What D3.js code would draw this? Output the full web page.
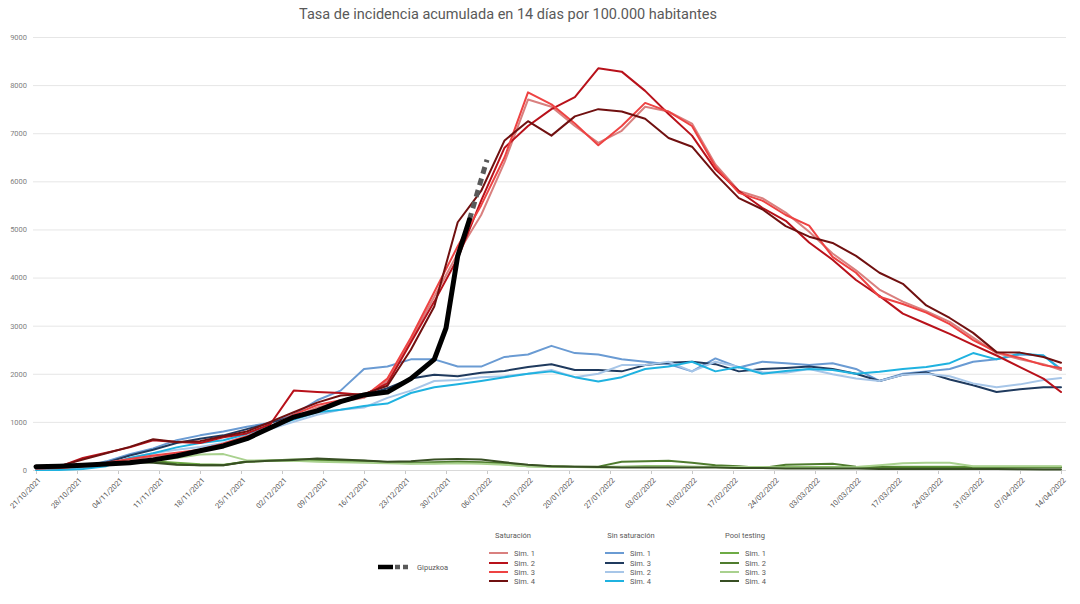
<!DOCTYPE html>
<html><head><meta charset="utf-8">
<script src="https://cdn.jsdelivr.net/npm/d3@7"></script>
<style>
body{margin:0;background:#fff}
svg{display:block}
text{font-family:Roboto,"Liberation Sans",sans-serif}
</style>
</head><body>
<svg id="c" width="1080" height="604"></svg>
<script>
// ---------- DATA ----------
const dates = ["2021-10-21","2021-10-25","2021-10-29","2021-11-02","2021-11-06","2021-11-10","2021-11-14","2021-11-18","2021-11-22","2021-11-26","2021-11-30","2021-12-04","2021-12-08","2021-12-12","2021-12-16","2021-12-20","2021-12-24","2021-12-28","2022-01-01","2022-01-05","2022-01-09","2022-01-13","2022-01-17","2022-01-21","2022-01-25","2022-01-29","2022-02-02","2022-02-06","2022-02-10","2022-02-14","2022-02-18","2022-02-22","2022-02-26","2022-03-02","2022-03-06","2022-03-10","2022-03-14","2022-03-18","2022-03-22","2022-03-26","2022-03-30","2022-04-03","2022-04-07","2022-04-11","2022-04-14"];

// Saturación
const satSim1 = [30,40,80,140,210,280,340,400,520,680,880,1100,1300,1420,1500,1850,2700,3600,4500,5300,6400,7700,7550,7150,6800,7050,7550,7450,7200,6350,5800,5650,5350,4950,4500,4150,3750,3500,3300,3080,2750,2430,2300,2200,2080];
const satSim2 = [50,70,250,360,470,620,580,560,680,760,950,1650,1620,1600,1560,1800,2650,3500,4400,5600,6700,7150,7500,7750,8350,8280,7880,7400,6950,6250,5800,5450,5180,4730,4370,3950,3620,3250,3040,2830,2600,2380,2140,1900,1620];
const satSim3 = [30,40,90,150,230,300,360,420,550,700,900,1150,1350,1450,1520,1900,2750,3700,4650,5500,6500,7850,7600,7200,6750,7150,7630,7450,7150,6300,5760,5600,5300,5080,4430,4100,3600,3450,3270,3030,2700,2450,2330,2180,2120];
const satSim4 = [50,80,220,350,480,640,580,600,700,800,1000,1200,1400,1550,1580,1750,2500,3400,5150,5800,6850,7250,6950,7350,7500,7450,7300,6900,6720,6150,5650,5420,5070,4850,4720,4450,4100,3870,3420,3160,2850,2450,2440,2350,2230];

// Sin saturación
const sinSim1 = [20,30,60,180,330,450,620,720,800,900,980,1150,1450,1650,2100,2150,2300,2300,2150,2150,2350,2400,2580,2430,2400,2300,2250,2200,2050,2320,2130,2250,2220,2180,2220,2100,1850,2000,2050,2100,2250,2300,2400,2380,2100];
const sinSim3 = [20,30,50,150,300,420,560,650,720,850,980,1120,1250,1400,1550,1700,1900,1980,1950,2020,2060,2140,2200,2080,2080,2050,2180,2230,2250,2200,2050,2100,2120,2150,2100,2000,1850,1980,2030,1880,1760,1620,1680,1720,1720];
const sinSim2 = [10,20,40,120,250,350,420,480,560,700,850,1000,1150,1250,1300,1500,1650,1850,1870,1930,1950,2000,2080,1930,2000,2180,2180,2250,2050,2250,2140,2030,2020,2100,1990,1900,1850,1980,2000,1950,1800,1720,1780,1870,1910];
const sinSim4 = [0,0,20,80,250,350,470,560,620,750,900,1050,1200,1250,1330,1380,1600,1720,1780,1850,1930,2000,2050,1930,1840,1930,2100,2150,2250,2050,2140,2000,2060,2100,2080,2000,2040,2100,2140,2220,2430,2300,2420,2380,2080];

// Pool testing
const poolSim1 = [60,70,90,130,160,180,150,120,110,170,190,200,200,180,170,150,140,150,160,150,120,80,70,60,60,70,80,80,70,60,50,60,60,60,60,60,70,70,70,70,70,70,70,70,70];
const poolSim2 = [60,70,100,140,170,180,120,100,100,180,200,220,220,200,190,160,150,160,170,160,140,100,80,70,70,170,180,190,150,100,80,40,110,120,130,70,60,50,50,50,50,50,50,50,50];
const poolSim3 = [50,60,80,120,150,180,250,320,330,200,200,190,170,160,150,140,130,130,140,130,110,80,70,60,50,60,60,60,60,60,60,60,50,50,50,60,100,140,150,150,80,80,80,80,80];
const poolSim4 = [60,70,100,130,160,150,110,100,100,170,190,210,240,220,200,170,180,220,230,220,160,110,80,70,60,50,50,50,50,50,40,40,30,30,30,30,20,20,20,20,20,20,15,10,10];

// Gipuzkoa (observed) and projection
const gipDates = ["2021-10-21","2021-10-25","2021-10-29","2021-11-02","2021-11-06","2021-11-10","2021-11-14","2021-11-18","2021-11-22","2021-11-26","2021-11-30","2021-12-04","2021-12-08","2021-12-12","2021-12-16","2021-12-20","2021-12-24","2021-12-28","2021-12-30","2022-01-01","2022-01-03"];
const gipValues = [70,80,100,125,150,210,290,400,500,650,880,1100,1230,1420,1560,1620,1900,2300,2950,4450,5200];
const gipProjDates = ["2022-01-03","2022-01-06"];
const gipProjValues = [5200,6450];

const yTicks = [0,1000,2000,3000,4000,5000,6000,7000,8000,9000];
const xTickLabels = ["21/10/2021","28/10/2021","04/11/2021","11/11/2021","18/11/2021","25/11/2021","02/12/2021","09/12/2021","16/12/2021","23/12/2021","30/12/2021","06/01/2022","13/01/2022","20/01/2022","27/01/2022","03/02/2022","10/02/2022","17/02/2022","24/02/2022","03/03/2022","10/03/2022","17/03/2022","24/03/2022","31/03/2022","07/04/2022","14/04/2022"];

const title = "Tasa de incidencia acumulada en 14 días por 100.000 habitantes";
const groupTitles = ["Saturación","Sin saturación","Pool testing"];
const groupLabels = [["Sim. 1","Sim. 2","Sim. 3","Sim. 4"],["Sim. 1","Sim. 3","Sim. 2","Sim. 4"],["Sim. 1","Sim. 2","Sim. 3","Sim. 4"]];
const groupValues = [[satSim1,satSim2,satSim3,satSim4],[sinSim1,sinSim3,sinSim2,sinSim4],[poolSim1,poolSim2,poolSim3,poolSim4]];

// ---------- STYLES ----------
const groupColors = [
  ["#d9807f","#b8111a","#ee4343","#701010"],
  ["#6a9bd3","#1f3a5e","#a7c6e8","#1fb2e0"],
  ["#6eab45","#4f7c2e","#a9d18e","#384f24"]
];

// ---------- CHART ----------
const parse = d3.timeParse("%Y-%m-%d");
const fmtIn = d3.timeParse("%d/%m/%Y");
const svg = d3.select("#c");
const x = d3.scaleTime().domain([parse("2021-10-21"), parse("2022-04-14")]).range([36, 1061]);
const y = d3.scaleLinear().domain([0, 9000]).range([470, 37]);
const gridL = 33, gridR = 1066;

// title
svg.append("text").attr("x", 508).attr("y", 19).attr("text-anchor","middle")
  .attr("font-size", 14.5).attr("fill", "#595959").text(title);

// y axis + grid
const yAxis = svg.append("g").attr("transform", `translate(${gridL},0)`)
  .call(d3.axisLeft(y).tickValues(yTicks).tickSize(-(gridR-gridL)).tickPadding(6).tickFormat(d3.format("d")));
yAxis.select(".domain").remove();
yAxis.selectAll(".tick line").attr("stroke", "#e6e6e6").attr("stroke-width", 1);
yAxis.selectAll(".tick text").attr("fill", "#7f7f7f").attr("font-size", 7.5).style("font-family","Roboto,sans-serif");

// x axis
const xTicks = xTickLabels.map(s => fmtIn(s));
const xAxis = svg.append("g").attr("transform", "translate(0,470)")
  .call(d3.axisBottom(x).tickValues(xTicks).tickSize(4).tickSizeOuter(0).tickFormat((d,i) => xTickLabels[i]));
xAxis.select(".domain").remove();
svg.append("line").attr("x1", gridL).attr("x2", gridR).attr("y1", 470.5).attr("y2", 470.5).attr("stroke", "#d9d9d9");
xAxis.selectAll(".tick line").attr("stroke", "#c8c8c8");
xAxis.selectAll(".tick text")
  .attr("x", 0).attr("y", 0).attr("dy", "0.35em")
  .attr("transform", "translate(3,9) rotate(-45)")
  .attr("text-anchor", "end").attr("fill", "#595959").attr("font-size", 7.5)
  .style("font-family","Roboto,sans-serif");

const dts = dates.map(parse);
const line = d3.line().x(d => x(d[0])).y(d => y(d[1]));

// draw order: pool, sin saturación, saturación
[2,1,0].forEach(g => {
  groupValues[g].forEach((vals, k) => {
    svg.append("path").datum(vals.map((v,i) => [dts[i], v]))
      .attr("d", line).attr("fill", "none").attr("stroke", groupColors[g][k])
      .attr("stroke-width", 2).attr("stroke-linejoin", "round").attr("stroke-linecap","round");
  });
});

// Gipuzkoa
svg.append("path").datum(gipProjValues.map((v,i) => [parse(gipProjDates[i]), v]))
  .attr("d", line).attr("fill","none").attr("stroke","#595959").attr("stroke-width",5)
  .attr("stroke-dasharray","7,5");
svg.append("path").datum(gipValues.map((v,i) => [parse(gipDates[i]), v]))
  .attr("d", line).attr("fill","none").attr("stroke","#000").attr("stroke-width",5)
  .attr("stroke-linejoin","round").attr("stroke-linecap","round");

// legend
const lg = svg.append("g").attr("font-size", 7.5).attr("fill", "#595959");
lg.append("line").attr("x1",378).attr("x2",393).attr("y1",567).attr("y2",567).attr("stroke","#000").attr("stroke-width",4.5);
lg.append("line").attr("x1",395).attr("x2",408).attr("y1",567).attr("y2",567).attr("stroke","#595959").attr("stroke-width",4.5).attr("stroke-dasharray","5,3");
lg.append("text").attr("x",417).attr("y",567).attr("dy","0.35em").text("Gipuzkoa");

const gx = [489, 605, 720];
const gTitleX = [513, 631, 745];
const itemY = [553, 563, 572, 581];
groupTitles.forEach((t, g) => {
  lg.append("text").attr("x", gTitleX[g]).attr("y", 535).attr("dy","0.35em").attr("text-anchor","middle").text(t);
  groupLabels[g].forEach((lab, k) => {
    lg.append("line").attr("x1", gx[g]).attr("x2", gx[g]+19).attr("y1", itemY[k]).attr("y2", itemY[k])
      .attr("stroke", groupColors[g][k]).attr("stroke-width", 2);
    lg.append("text").attr("x", gx[g]+25).attr("y", itemY[k]).attr("dy","0.35em").text(lab);
  });
});
</script>
</body></html>
